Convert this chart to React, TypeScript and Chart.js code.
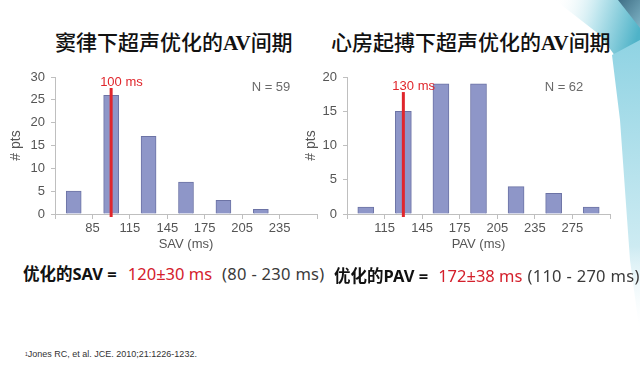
import React, { useEffect, useRef } from "react";
import { Chart, registerables } from "chart.js";
Chart.register(...registerables);

// ---- data ----
const savBinCenters = [70, 100, 130, 160, 190, 220, 250];
const savCounts = [5, 26, 17, 7, 3, 1, 0];
const savTickValues = [55, 85, 115, 145, 175, 205, 235, 265];
const savTickLabels = ["", "85", "115", "145", "175", "205", "235", ""];
const savYMax = 30;
const savOptimal = 100;
const savMarkerTop = 27.6;
const savMarkerLabel = "100 ms";
const savNLabel = "N = 59";

const pavBinCenters = [100, 130, 160, 190, 220, 250, 280];
const pavCounts = [1, 15, 19, 19, 4, 3, 1];
const pavTickValues = [85, 115, 145, 175, 205, 235, 265, 295];
const pavTickLabels = ["", "115", "145", "175", "205", "235", "275", ""];
const pavYMax = 20;
const pavOptimal = 130;
const pavMarkerTop = 17.8;
const pavMarkerLabel = "130 ms";
const pavNLabel = "N = 62";

const AXIS_GRAY = "#bfbfbf";
const TEXT_GRAY = "#555555";
const RED = "#e0262c";
const FONT = '"Liberation Sans", Arial, sans-serif';

const markerPlugin = {
  id: "marker",
  afterDatasetsDraw(chart: any, _args: any, opts: any) {
    const { ctx, chartArea, scales } = chart;
    const x = scales.x;
    const y = scales.y;
    const px = x.getPixelForValue(opts.value);
    const top = y.getPixelForValue(opts.top);
    ctx.save();
    ctx.strokeStyle = RED;
    ctx.lineWidth = 3;
    ctx.beginPath();
    ctx.moveTo(px, top);
    ctx.lineTo(px, chartArea.bottom + 3);
    ctx.stroke();
    ctx.font = "13px " + FONT;
    ctx.fillStyle = RED;
    ctx.textAlign = "left";
    ctx.textBaseline = "middle";
    ctx.fillText(opts.label, px - 11, top - 6);
    ctx.fillStyle = "#6a6a6a";
    ctx.textAlign = "center";
    ctx.fillText(opts.nText, chartArea.right - 46, chartArea.top + 10);
    ctx.restore();
  },
};

type HistProps = {
  left: number;
  top: number;
  width: number;
  height: number;
  centers: number[];
  counts: number[];
  tickValues: number[];
  tickLabels: string[];
  yMax: number;
  yAxisWidth: number;
  padRight: number;
  yTitlePad: number;
  xTitle: string;
  marker: number;
  markerTop: number;
  markerLabel: string;
  nText: string;
  barThickness: number;
};

function Histogram(p: HistProps) {
  const ref = useRef<HTMLCanvasElement | null>(null);
  useEffect(() => {
    if (!ref.current) return;
    const tickFont = { size: 13, family: FONT };
    const isZero = (ctx: any) => ctx.raw && ctx.raw.y === 0;
    const chart = new Chart(ref.current, {
      type: "bar",
      data: {
        datasets: [
          {
            data: p.centers.map((c, i) => ({ x: c, y: p.counts[i] })),
            backgroundColor: (ctx: any) => (isZero(ctx) ? "rgba(0,0,0,0)" : "#8e96c8"),
            borderColor: (ctx: any) => (isZero(ctx) ? "rgba(0,0,0,0)" : "#6c73a5"),
            borderWidth: (ctx: any) => (isZero(ctx) ? 0 : 1),
            barThickness: p.barThickness,
          } as any,
        ],
      },
      options: {
        responsive: false,
        animation: false,
        layout: { padding: { top: 17, right: p.padRight, left: 0, bottom: 0 } },
        plugins: {
          legend: { display: false },
          tooltip: { enabled: false },
          marker: { value: p.marker, top: p.markerTop, label: p.markerLabel, nText: p.nText },
        } as any,
        scales: {
          x: {
            type: "linear",
            min: p.tickValues[0],
            max: p.tickValues[p.tickValues.length - 1],
            offset: false,
            afterBuildTicks: (s: any) => {
              s.ticks = p.tickValues.map((v) => ({ value: v }));
            },
            afterFit: (s: any) => {
              s.height = 41;
            },
            grid: {
              display: true,
              drawOnChartArea: false,
              drawTicks: true,
              tickLength: 5,
              color: AXIS_GRAY,
              offset: false,
            },
            border: { display: true, color: AXIS_GRAY },
            ticks: {
              callback: (_v: any, i: number) => p.tickLabels[i],
              color: TEXT_GRAY,
              font: tickFont,
              padding: 2,
              maxRotation: 0,
              autoSkip: false,
            },
            title: {
              display: true,
              text: p.xTitle,
              color: TEXT_GRAY,
              font: tickFont,
              padding: { top: 0, bottom: 3 },
            },
          },
          y: {
            min: 0,
            max: p.yMax,
            afterFit: (s: any) => {
              s.width = p.yAxisWidth;
            },
            grid: {
              display: true,
              drawOnChartArea: false,
              drawTicks: true,
              tickLength: 4,
              color: AXIS_GRAY,
            },
            border: { display: true, color: AXIS_GRAY },
            ticks: { stepSize: 5, color: TEXT_GRAY, font: tickFont, padding: 6 },
            title: {
              display: true,
              text: "# pts",
              color: TEXT_GRAY,
              font: { size: 14, family: FONT },
              padding: { top: p.yTitlePad, bottom: 0 },
            },
          },
        } as any,
      },
      plugins: [markerPlugin],
    });
    return () => chart.destroy();
  }, []);
  return (
    <canvas
      ref={ref}
      width={p.width}
      height={p.height}
      style={{ position: "absolute", left: p.left, top: p.top, width: p.width, height: p.height }}
    />
  );
}

function Decoration() {
  return (
    <svg width={640} height={375} style={{ position: "absolute", left: 0, top: 0 }}>
      <defs>
        <linearGradient id="teal" x1="0" y1="0" x2="1" y2="0.3">
          <stop offset="0" stopColor="#ffffff" stopOpacity="0" />
          <stop offset="0.5" stopColor="#bfe6ee" />
          <stop offset="1" stopColor="#4fb3c8" />
        </linearGradient>
        <linearGradient id="band" x1="0" y1="0" x2="0" y2="1">
          <stop offset="0" stopColor="#8fd3e3" />
          <stop offset="0.7" stopColor="#cdebf2" />
          <stop offset="1" stopColor="#ffffff" stopOpacity="0" />
        </linearGradient>
        <linearGradient id="dark" x1="0" y1="0" x2="1" y2="1">
          <stop offset="0" stopColor="#3f6f86" />
          <stop offset="1" stopColor="#7fb4c6" />
        </linearGradient>
      </defs>
      <polygon points="555,0 640,0 640,90 618,60 600,35" fill="url(#teal)" />
      <polygon points="612,55 640,40 640,335 630,260 620,120" fill="url(#band)" />
      <polygon points="618,0 640,0 640,28" fill="url(#dark)" />
    </svg>
  );
}

export default function App() {
  const titleStyle: React.CSSProperties = {
    position: "absolute",
    top: 31,
    fontSize: 21,
    lineHeight: "24px",
    fontFamily: '"Liberation Serif", "Noto Sans CJK SC", serif',
    fontWeight: 500,
    color: "#111",
    whiteSpace: "nowrap",
  };
  const avStyle: React.CSSProperties = { fontWeight: 700 };
  const sumStyle: React.CSSProperties = {
    position: "absolute",
    fontSize: 16.5,
    lineHeight: "20px",
    fontFamily: '"Noto Sans", "Noto Sans CJK SC", sans-serif',
    color: "#3a3a3a",
    whiteSpace: "pre",
  };
  const boldStyle: React.CSSProperties = { fontWeight: 700, color: "#111" };
  const redStyle: React.CSSProperties = { color: "#d4202c" };
  return (
    <div
      style={{
        position: "absolute",
        left: 0,
        top: 0,
        width: 640,
        height: 375,
        background: "#ffffff",
        overflow: "hidden",
      }}
    >
      <Decoration />
      <div style={{ ...titleStyle, left: 55 }}>
        窦律下超声优化的<span style={avStyle}>AV</span>间期
      </div>
      <div style={{ ...titleStyle, left: 331 }}>
        心房起搏下超声优化的<span style={avStyle}>AV</span>间期
      </div>
      <Histogram
        left={0}
        top={60}
        width={320}
        height={195}
        centers={savBinCenters}
        counts={savCounts}
        tickValues={savTickValues}
        tickLabels={savTickLabels}
        yMax={savYMax}
        yAxisWidth={55}
        padRight={3}
        yTitlePad={8}
        xTitle="SAV (ms)"
        marker={savOptimal}
        markerTop={savMarkerTop}
        markerLabel={savMarkerLabel}
        nText={savNLabel}
        barThickness={15}
      />
      <Histogram
        left={300}
        top={60}
        width={340}
        height={195}
        centers={pavBinCenters}
        counts={pavCounts}
        tickValues={pavTickValues}
        tickLabels={pavTickLabels}
        yMax={pavYMax}
        yAxisWidth={47}
        padRight={30}
        yTitlePad={3}
        xTitle="PAV (ms)"
        marker={pavOptimal}
        markerTop={pavMarkerTop}
        markerLabel={pavMarkerLabel}
        nText={pavNLabel}
        barThickness={16}
      />
      <div style={{ ...sumStyle, left: 23, top: 264 }}>
        <span style={boldStyle}>优化的SAV =</span>
        <span style={{ ...redStyle, marginLeft: 11 }}>120±30 ms</span>
        <span style={{ marginLeft: 10, letterSpacing: 0.3 }}>(80 - 230 ms)</span>
      </div>
      <div style={{ ...sumStyle, left: 334, top: 266 }}>
        <span style={boldStyle}>优化的PAV =</span>
        <span style={{ ...redStyle, marginLeft: 10 }}>172±38 ms</span>
        <span style={{ marginLeft: 5, letterSpacing: 0.3 }}>(110 - 270 ms)</span>
      </div>
      <div
        style={{
          position: "absolute",
          left: 25,
          top: 348,
          fontSize: 9,
          lineHeight: "12px",
          fontFamily: '"Liberation Sans Narrow", "Liberation Sans", sans-serif',
          color: "#333",
          whiteSpace: "nowrap",
        }}
      >
        <span style={{ fontSize: 5, verticalAlign: "top" }}>1</span>Jones RC, et al. JCE. 2010;21:1226-1232.
      </div>
    </div>
  );
}
